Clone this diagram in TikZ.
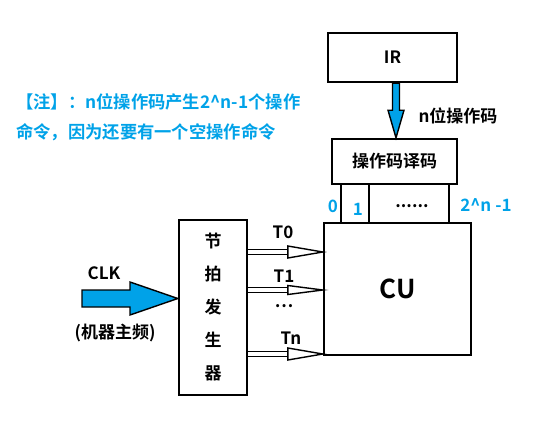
\documentclass[tikz,border=0pt]{standalone}
\usepackage{fontspec}
\setmainfont{Noto Sans CJK SC}[BoldFont={Noto Sans CJK SC Bold}]
\usepackage{xcolor}
\usepackage{tikz}
\usetikzlibrary{arrows.meta,positioning,calc}
\definecolor{noteblue}{HTML}{00A2E8}

\tikzset{
  blockbox/.style={draw, line width=2.4pt, inner sep=0pt, font=\bfseries\fontsize{17}{17}\selectfont},
  wire/.style={line width=2.4pt},
  tlabel/.style={inner sep=0pt, font=\bfseries\fontsize{17}{17}\selectfont},
  bluelabel/.style={tlabel, text=noteblue},
  pulse/.style={double, double distance=3.5pt, line width=1.4pt, shorten >=20pt},
  pulsehead/.style={draw, fill=white, line width=1.4pt, line join=miter},
  fatarrow/.style={draw=black, line width=1.4pt, fill=noteblue},
}

\begin{document}
\begin{tikzpicture}[x=1pt, y=-1pt]
    \useasboundingbox (0,0) rectangle (559,420);

    % Note
    \node[bluelabel, anchor=west, align=left, font=\bfseries\fontsize{17.3}{30}\selectfont] (note) at (16,117)
      {【注】：n位操作码产生2\textasciicircum n-1个操作\\命令，因为还要有一个空操作命令};

    % Boxes
    \node[blockbox, minimum width=129pt, minimum height=49pt] (ir) at (392.5,57.5) {IR};
    \node[blockbox, minimum width=125pt, minimum height=45pt] (dec) at (394.5,161.5) {操作码译码};
    \node[blockbox, minimum width=147pt, minimum height=132pt, font=\bfseries\fontsize{26}{26}\selectfont] (cu) at (397.5,289) {CU};
    \node[blockbox, minimum width=68pt, minimum height=175pt, align=center, font=\bfseries\fontsize{17}{33}\selectfont] (gen) at (213,307.5) {节\\拍\\发\\生\\器};

    % IR -> decoder
    \coordinate (irtail) at ($(ir.south)+(3.5,0)$);
    \coordinate (irtip) at ($(dec.north)+(1.5,0)$);
    \coordinate (irhead) at ($(irtail)+(0,27)$);
    \draw[fatarrow] ($(irtail)+(-3.5,0)$) -- ($(irhead)+(-3.5,0)$) -- ($(irhead)+(-8,0)$) -- (irtip)
      -- ($(irhead)+(8,0)$) -- ($(irhead)+(3.5,0)$) -- ($(irtail)+(3.5,0)$) -- cycle;
    \node[tlabel] (oplabel) at (458,116) {n位操作码};

    % Decoder outputs
    \coordinate (o0) at ($(dec.south)+(-53.5,0)$);
    \coordinate (o1) at ($(dec.south)+(-25.5,0)$);
    \coordinate (on) at ($(dec.south)+(54.5,0)$);
    \draw[wire] (o0) -- (o0 |- cu.north);
    \draw[wire] (o1) -- (o1 |- cu.north);
    \draw[wire] (on) -- (on |- cu.north);
    \node[bluelabel] (l0) at (333,206) {0};
    \node[bluelabel] (l1) at (358,209) {1};
    \node[tlabel] (ldots) at (412,206) {......};
    \node[bluelabel] (ln) at (486,205) {2\textasciicircum n -1};

    % Beat signals
    \coordinate (t0) at (0,252);
    \coordinate (t1) at (0,290);
    \coordinate (tn) at (0,354);
    \draw[pulse] (gen.east |- t0) -- (cu.west |- t0);
    \draw[pulsehead] (cu.west |- t0) -- ++(-35,-6) -- ++(0,12) -- cycle;
    \draw[pulse] (gen.east |- t1) -- (cu.west |- t1);
    \draw[pulsehead] (cu.west |- t1) -- ++(-35,-4.5) -- ++(0,9) -- cycle;
    \draw[pulse] (gen.east |- tn) -- (cu.west |- tn);
    \draw[pulsehead] (cu.west |- tn) -- ++(-35,-6) -- ++(0,12) -- cycle;
    \node[tlabel] (lt0) at (283,232) {T0};
    \node[tlabel] (lt1) at (284,276) {T1};
    \node[tlabel] (ltd) at (284,306) {…};
    \node[tlabel] (ltn) at (291,338) {Tn};

    % Clock input
    \coordinate (clk) at (0,298.5);
    \coordinate (clktip) at (gen.west |- clk);
    \draw[fatarrow] (82,290) -- (130,290) -- (130,282) -- (clktip) -- (130,315) -- (130,307) -- (82,307) -- cycle;
    \node[tlabel] (clklabel) at (104,273) {CLK};
    \node[tlabel] (freq) at (115,333) {(机器主频)};
\end{tikzpicture}
\end{document}
